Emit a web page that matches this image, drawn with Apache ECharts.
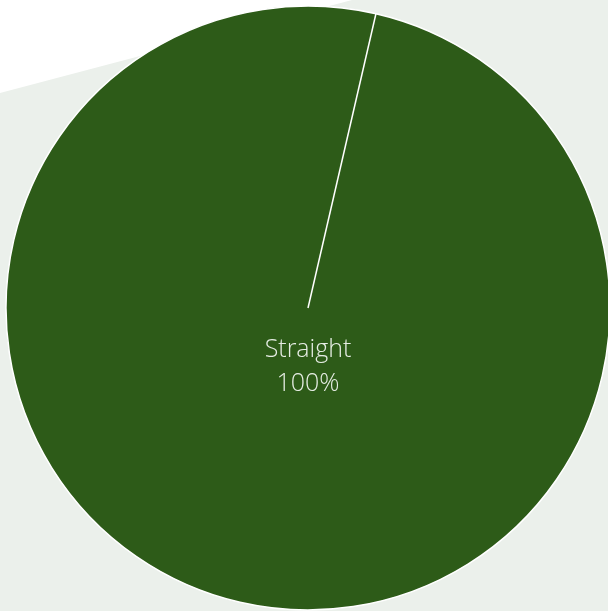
<!DOCTYPE html>
<html>
<head>
<meta charset="utf-8">
<style>
  html, body { margin: 0; padding: 0; background: #ffffff; }
  #chart { width: 608px; height: 611px; }
</style>
<script src="https://cdn.jsdelivr.net/npm/echarts@6/dist/echarts.min.js"></script>
</head>
<body>
<div id="chart"></div>
<script>
// Slice names and values
const categories = ['Straight'];
const values = [100];
// Where the first slice begins (degrees, counter-clockwise from 3 o'clock)
const startAngle = 77;

const GREEN = '#2d5b18';
const PANEL = '#ebf0eb';
const CENTER = [308, 308];
const RADIUS = 302;

const chart = echarts.init(document.getElementById('chart'), null, { renderer: 'canvas' });

const total = values.reduce((a, b) => a + b, 0);

chart.setOption({
  animation: false,
  backgroundColor: '#ffffff',
  graphic: [{
    type: 'polygon',
    z: -10,
    silent: true,
    shape: { points: [[0, 93], [352, 0], [608, 0], [608, 611], [0, 611]] },
    style: { fill: PANEL }
  }],
  // Polar frame sharing the pie's centre, used to draw the slice divider
  polar: { center: CENTER, radius: RADIUS },
  angleAxis: {
    type: 'value', min: 0, max: 360, startAngle: startAngle, clockwise: true,
    show: false
  },
  radiusAxis: { type: 'value', min: 0, max: 1, show: false },
  series: [{
    type: 'pie',
    center: CENTER,
    radius: [0, RADIUS],
    startAngle: startAngle,
    clockwise: true,
    silent: true,
    avoidLabelOverlap: false,
    itemStyle: {
      color: GREEN,
      borderColor: '#ffffff',
      borderWidth: 1.5
    },
    label: {
      show: true,
      position: 'center',
      offset: [0, 59],
      color: '#e6ede4',
      fontFamily: 'Open Sans',
      fontWeight: 300,
      fontSize: 25,
      lineHeight: 34,
      formatter: p => p.name + '\n' + Math.round(p.value / total * 100) + '%'
    },
    labelLine: { show: false },
    data: categories.map((name, i) => ({ name: name, value: values[i] }))
  }, {
    // Radial divider at the start of the first slice
    type: 'line',
    coordinateSystem: 'polar',
    silent: true,
    symbol: 'none',
    z: 5,
    lineStyle: { color: '#ffffff', width: 1.5 },
    data: [[0, 0], [1, 0]]
  }]
});
</script>
</body>
</html>
